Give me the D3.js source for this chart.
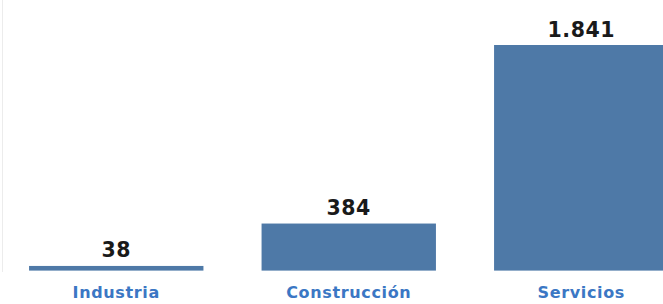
<!DOCTYPE html>
<html>
<head>
<meta charset="utf-8">
<script src="https://cdn.jsdelivr.net/npm/d3@7"></script>
<style>
    body { margin: 0; background: #fff; }
    svg { display: block; }
</style>
</head>
<body>
<svg></svg>
<script>
var sectors = ["Industria", "Construcción", "Servicios"];
var values = [38, 384, 1841];
var valueLabels = ["38", "384", "1.841"];

var width = 663, height = 304;
var baseY = 270.6;

var svg = d3.select("svg")
    .attr("width", width)
    .attr("height", height);

var x = d3.scaleBand().domain(sectors).range([0, 697.5])
    .paddingInner(0.25).paddingOuter(0.125);
var y = d3.scaleLinear().domain([0, 1841]).range([baseY, 45]);

// faint left border
svg.append("line")
    .attr("x1", 2.5).attr("x2", 2.5)
    .attr("y1", 0).attr("y2", 272)
    .attr("stroke", "#ececec")
    .attr("stroke-width", 1);

var g = svg.append("g");

g.selectAll("rect")
    .data(values)
    .enter()
    .append("rect")
    .attr("x", function(d, i) { return x(sectors[i]); })
    .attr("y", function(d) { return y(d); })
    .attr("width", x.bandwidth())
    .attr("height", function(d) { return baseY - y(d); })
    .attr("fill", "#4e79a7");

// value labels
g.selectAll(".val")
    .data(values)
    .enter()
    .append("text")
    .attr("class", "val")
    .attr("x", function(d, i) { return x(sectors[i]) + x.bandwidth() / 2; })
    .attr("y", function(d) { return y(d) - 8.5; })
    .attr("text-anchor", "middle")
    .style("font-family", "'DejaVu Sans', Verdana, sans-serif")
    .style("font-weight", "bold")
    .style("font-size", "20.5px")
    .style("letter-spacing", "0.5px")
    .style("fill", "#1a1a1a")
    .text(function(d, i) { return valueLabels[i]; });

// category labels
g.selectAll(".cat")
    .data(sectors)
    .enter()
    .append("text")
    .attr("class", "cat")
    .attr("x", function(d) { return x(d) + x.bandwidth() / 2; })
    .attr("y", 298.3)
    .attr("text-anchor", "middle")
    .style("font-family", "'DejaVu Sans', Verdana, sans-serif")
    .style("font-weight", "bold")
    .style("font-size", "16px")
    .style("letter-spacing", "0.65px")
    .style("fill", "#3b77c4")
    .text(function(d) { return d; });
</script>
</body>
</html>
